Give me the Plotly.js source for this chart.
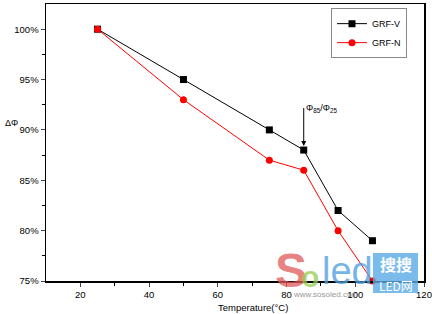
<!DOCTYPE html>
<html><head><meta charset="utf-8">
<script src="https://cdn.plot.ly/plotly-3.0.1.min.js"></script>
<style>body{margin:0;background:#fff}#c{width:432px;height:314px}</style>
</head><body><div id="c"></div>
<script>
const temperature = [25, 50, 75, 85, 95, 105];
const grfV = [100, 95, 90, 88, 82, 79];
const grfN = [100, 93, 87, 86, 80, 75];
const yTicks = [75, 80, 85, 90, 95, 100];
const yTickLabels = yTicks.map(v => v + '%');
const xTicks = [20, 40, 60, 80, 100, 120];

const fam = 'Liberation Sans, Arial, sans-serif';
const font = {family: fam, size: 9.5, color: '#000'};
const px = v => (v - 46) / 378;
const py = v => (281 - v) / 277;
const traces = [
  {x: temperature, y: grfV, name: 'GRF-V', mode: 'lines+markers', cliponaxis: false,
   line: {color: '#000', width: 1}, marker: {symbol: 'square', size: 7, color: '#000'}},
  {x: temperature, y: grfN, name: 'GRF-N', mode: 'lines+markers', cliponaxis: false,
   line: {color: '#ff0000', width: 1}, marker: {symbol: 'circle', size: 7, color: '#ff0000'}}
];
const layout = {
  width: 432, height: 314,
  margin: {l: 46, r: 8, t: 4, b: 33},
  paper_bgcolor: '#fff', plot_bgcolor: '#fff',
  font: font,
  showlegend: true,
  legend: {x: 0.955, y: 0.985, xanchor: 'right', yanchor: 'top', bordercolor: '#888', borderwidth: 1,
           bgcolor: '#fff', font: {family: fam, size: 9, color: '#000'},
           tracegroupgap: 0, itemwidth: 30},
  xaxis: {range: [10, 120], tickvals: xTicks, ticks: 'outside', ticklen: 4, tickwidth: 1,
          ticklabeloverflow: 'allow',
          showline: true, linecolor: '#000', linewidth: 1.5, mirror: true, showgrid: false, zeroline: false,
          minor: {tickvals: [30, 50, 70, 90, 110], ticks: 'outside', ticklen: 3, tickcolor: '#000'},
          title: {text: ''}},
  yaxis: {range: [75, 102.5], tickvals: yTicks, ticktext: yTickLabels, ticks: 'outside', ticklen: 4, tickwidth: 1,
          showline: true, linecolor: '#000', linewidth: 1.5, mirror: true, showgrid: false, zeroline: false,
          minor: {tickvals: [77.5, 82.5, 87.5, 92.5, 97.5], ticks: 'outside', ticklen: 3, tickcolor: '#000'},
          title: {text: ''}},
  shapes: [
    {type: 'rect', xref: 'paper', yref: 'paper', x0: px(373), x1: px(418),
     y0: py(293), y1: py(253), fillcolor: 'rgba(90,170,230,0.8)', line: {width: 0}, layer: 'above'}
  ],
  annotations: [
    {xref: 'paper', yref: 'paper', x: -0.09, y: 0.57, text: 'ΔΦ', showarrow: false,
     font: {family: fam, size: 9}, xanchor: 'center', yanchor: 'middle'},
    {xref: 'paper', yref: 'paper', x: 0.548, y: -0.094, text: 'Temperature(°C)', showarrow: false,
     font: {family: fam, size: 9.5}, xanchor: 'center', yanchor: 'middle'},
    {x: 85, y: 88, xref: 'x', yref: 'y', text: 'Φ<sub>85</sub>/Φ<sub>25</sub>', showarrow: true,
     arrowhead: 2, arrowsize: 1, arrowwidth: 1, arrowcolor: '#000', ax: 0, ay: -44, standoff: 6,
     xanchor: 'left', yanchor: 'middle', yshift: -2,
     font: {family: fam, size: 9}},
    {xref: 'paper', yref: 'paper', x: px(291), y: py(270), text: '<b>S</b>', showarrow: false,
     font: {family: fam, size: 48, color: 'rgba(225,90,90,0.75)'}, xanchor: 'center', yanchor: 'middle'},
    {xref: 'paper', yref: 'paper', x: px(310), y: py(276), text: '<b>o</b>', showarrow: false,
     font: {family: fam, size: 30, color: 'rgba(150,205,80,0.75)'}, xanchor: 'center', yanchor: 'middle'},
    {xref: 'paper', yref: 'paper', x: px(347), y: py(271), text: 'led', showarrow: false,
     font: {family: fam, size: 38, color: 'rgba(80,160,225,0.8)'}, xanchor: 'center', yanchor: 'middle'},
    {xref: 'paper', yref: 'paper', x: px(396), y: py(264), text: '<b>搜搜</b>', showarrow: false,
     font: {family: 'Noto Sans CJK SC', size: 16, color: '#fff'}, xanchor: 'center', yanchor: 'middle'},
    {xref: 'paper', yref: 'paper', x: px(396), y: py(285), text: 'LED网', showarrow: false,
     font: {family: 'Noto Sans CJK SC', size: 12, color: '#fff'}, xanchor: 'center', yanchor: 'middle'},
    {xref: 'paper', yref: 'paper', x: px(325), y: py(294), text: 'www.sosoled.com', showarrow: false,
     font: {family: fam, size: 8, color: 'rgba(120,120,120,0.8)'}, xanchor: 'center', yanchor: 'middle'}
  ]
};
Plotly.newPlot('c', traces, layout, {staticPlot: true});
</script></body></html>
